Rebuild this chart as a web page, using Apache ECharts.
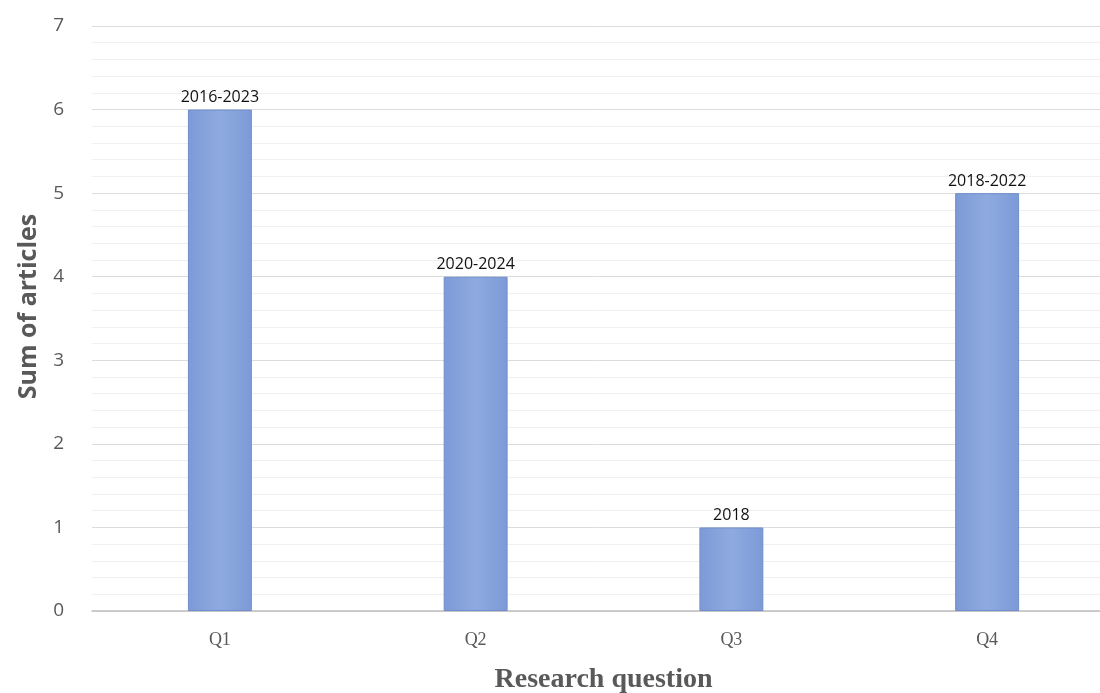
<!DOCTYPE html>
<html>
<head>
<meta charset="utf-8">
<script src="https://cdn.jsdelivr.net/npm/echarts@6/dist/echarts.min.js"></script>
<style>
  html, body { margin: 0; padding: 0; background: #fff; }
  #chart { width: 1100px; height: 693px; }
</style>
</head>
<body>
<div id="chart"></div>
<script>
// Articles per research question, with the publication-year span of each group
const categories = ['Q1', 'Q2', 'Q3', 'Q4'];
const articleCounts = [6, 4, 1, 5];
const yearSpans = ['2016-2023', '2020-2024', '2018', '2018-2022'];
const yTicks = [0, 1, 2, 3, 4, 5, 6, 7];

const chart = echarts.init(document.getElementById('chart'));

chart.setOption({
  backgroundColor: '#ffffff',
  animation: false,
  grid: {
    left: 92, right: -15, top: 26, bottom: 82,
    containLabel: false, outerBoundsMode: 'none'
  },
  xAxis: {
    type: 'category',
    data: categories,
    name: 'Research question',
    nameLocation: 'middle',
    nameGap: 55,
    nameTextStyle: {
      fontFamily: 'Liberation Serif', fontWeight: 'bold', fontSize: 28, color: '#595959'
    },
    axisLine: { lineStyle: { color: '#bfbfbf', width: 1.5 } },
    axisTick: { show: false },
    axisLabel: {
      fontFamily: 'Liberation Serif', fontSize: 18, color: '#595959', margin: 20
    }
  },
  yAxis: {
    type: 'value',
    min: yTicks[0],
    max: yTicks[yTicks.length - 1],
    interval: 1,
    name: 'Sum of articles',
    nameLocation: 'middle',
    nameGap: 51,
    nameTextStyle: {
      fontFamily: 'Open Sans', fontWeight: 'bold', fontSize: 25, color: '#595959',
      padding: [0, 0, 0, 24]
    },
    axisLine: { show: false },
    axisTick: { show: false },
    axisLabel: {
      fontFamily: 'Open Sans', fontSize: 19, color: '#595959', margin: 28
    },
    splitLine: { lineStyle: { color: '#dcdcdc', width: 1 } },
    minorTick: { show: false, splitNumber: 5 },
    minorSplitLine: { show: true, lineStyle: { color: '#f0f0f0', width: 1 } }
  },
  series: [{
    type: 'bar',
    data: articleCounts,
    barWidth: '25%',
    itemStyle: {
      color: new echarts.graphic.LinearGradient(0, 0, 1, 0, [
        { offset: 0, color: '#7c9ad6' },
        { offset: 0.5, color: '#8eaae0' },
        { offset: 1, color: '#7c9ad6' }
      ]),
      borderColor: '#6f8ecd',
      borderWidth: 1
    },
    label: {
      show: true,
      position: 'top',
      distance: 4,
      fontFamily: 'Open Sans',
      fontSize: 16,
      color: '#111111',
      formatter: p => yearSpans[p.dataIndex]
    }
  }]
});
</script>
</body>
</html>
